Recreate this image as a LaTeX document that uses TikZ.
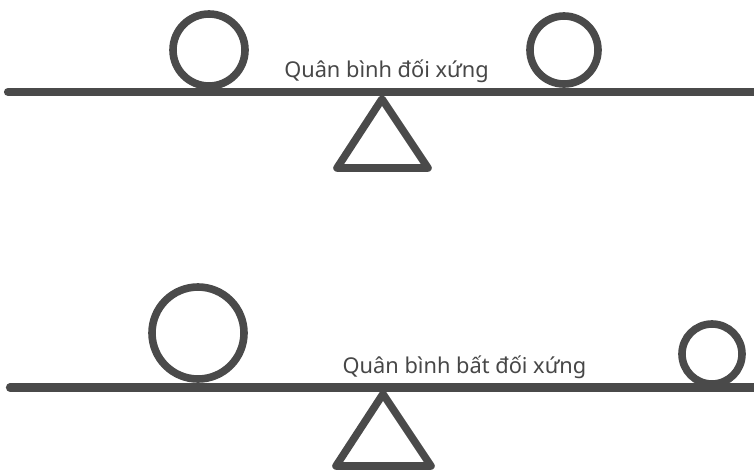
\documentclass[tikz,border=0pt]{standalone}
\usepackage{fontspec}
\setmainfont{Noto Sans}
\usepackage{xcolor}
\definecolor{ink}{HTML}{4A4A4A}
\definecolor{inktext}{HTML}{474747}

\begin{document}
\begin{tikzpicture}[x=0.03cm, y=-0.03cm,
  beam/.style={draw=ink, line width=7pt, line cap=round},
  weight/.style={draw=ink, line width=6.5pt},
  pivot/.style={draw=ink, line width=6.5pt, line join=round},
  caption/.style={anchor=base, inner sep=0pt, text=inktext, font=\fontsize{18.6}{20}\selectfont}]
\useasboundingbox[fill=white] (0,0) rectangle (754,471);
% === Symmetric balance ===
\node[caption] (capSym) at (386.5, 77) {Quân bình đối xứng};
\coordinate (beamSymL) at (8, 92);
\coordinate (beamSymR) at (760, 92);
\draw[beam] (beamSymL) -- (beamSymR);
\draw[weight] (209, 50) circle (36); % left
\draw[weight] (564, 50) circle (34); % right
\draw[pivot] (382, 99) -- (428, 168) -- (337, 168) -- cycle;

% === Asymmetric balance ===
\node[caption] (capAsym) at (464.5, 373) {Quân bình bất đối xứng};
\coordinate (beamAsymL) at (10, 387.5);
\coordinate (beamAsymR) at (760, 387.5);
\draw[beam] (beamAsymL) -- (beamAsymR);
\draw[weight] (198, 333) circle (46); % left, big
\draw[weight] (712, 354) circle (30); % right, small
\draw[pivot] (383, 394) -- (431, 466) -- (336, 466) -- cycle;

\end{tikzpicture}
\end{document}
